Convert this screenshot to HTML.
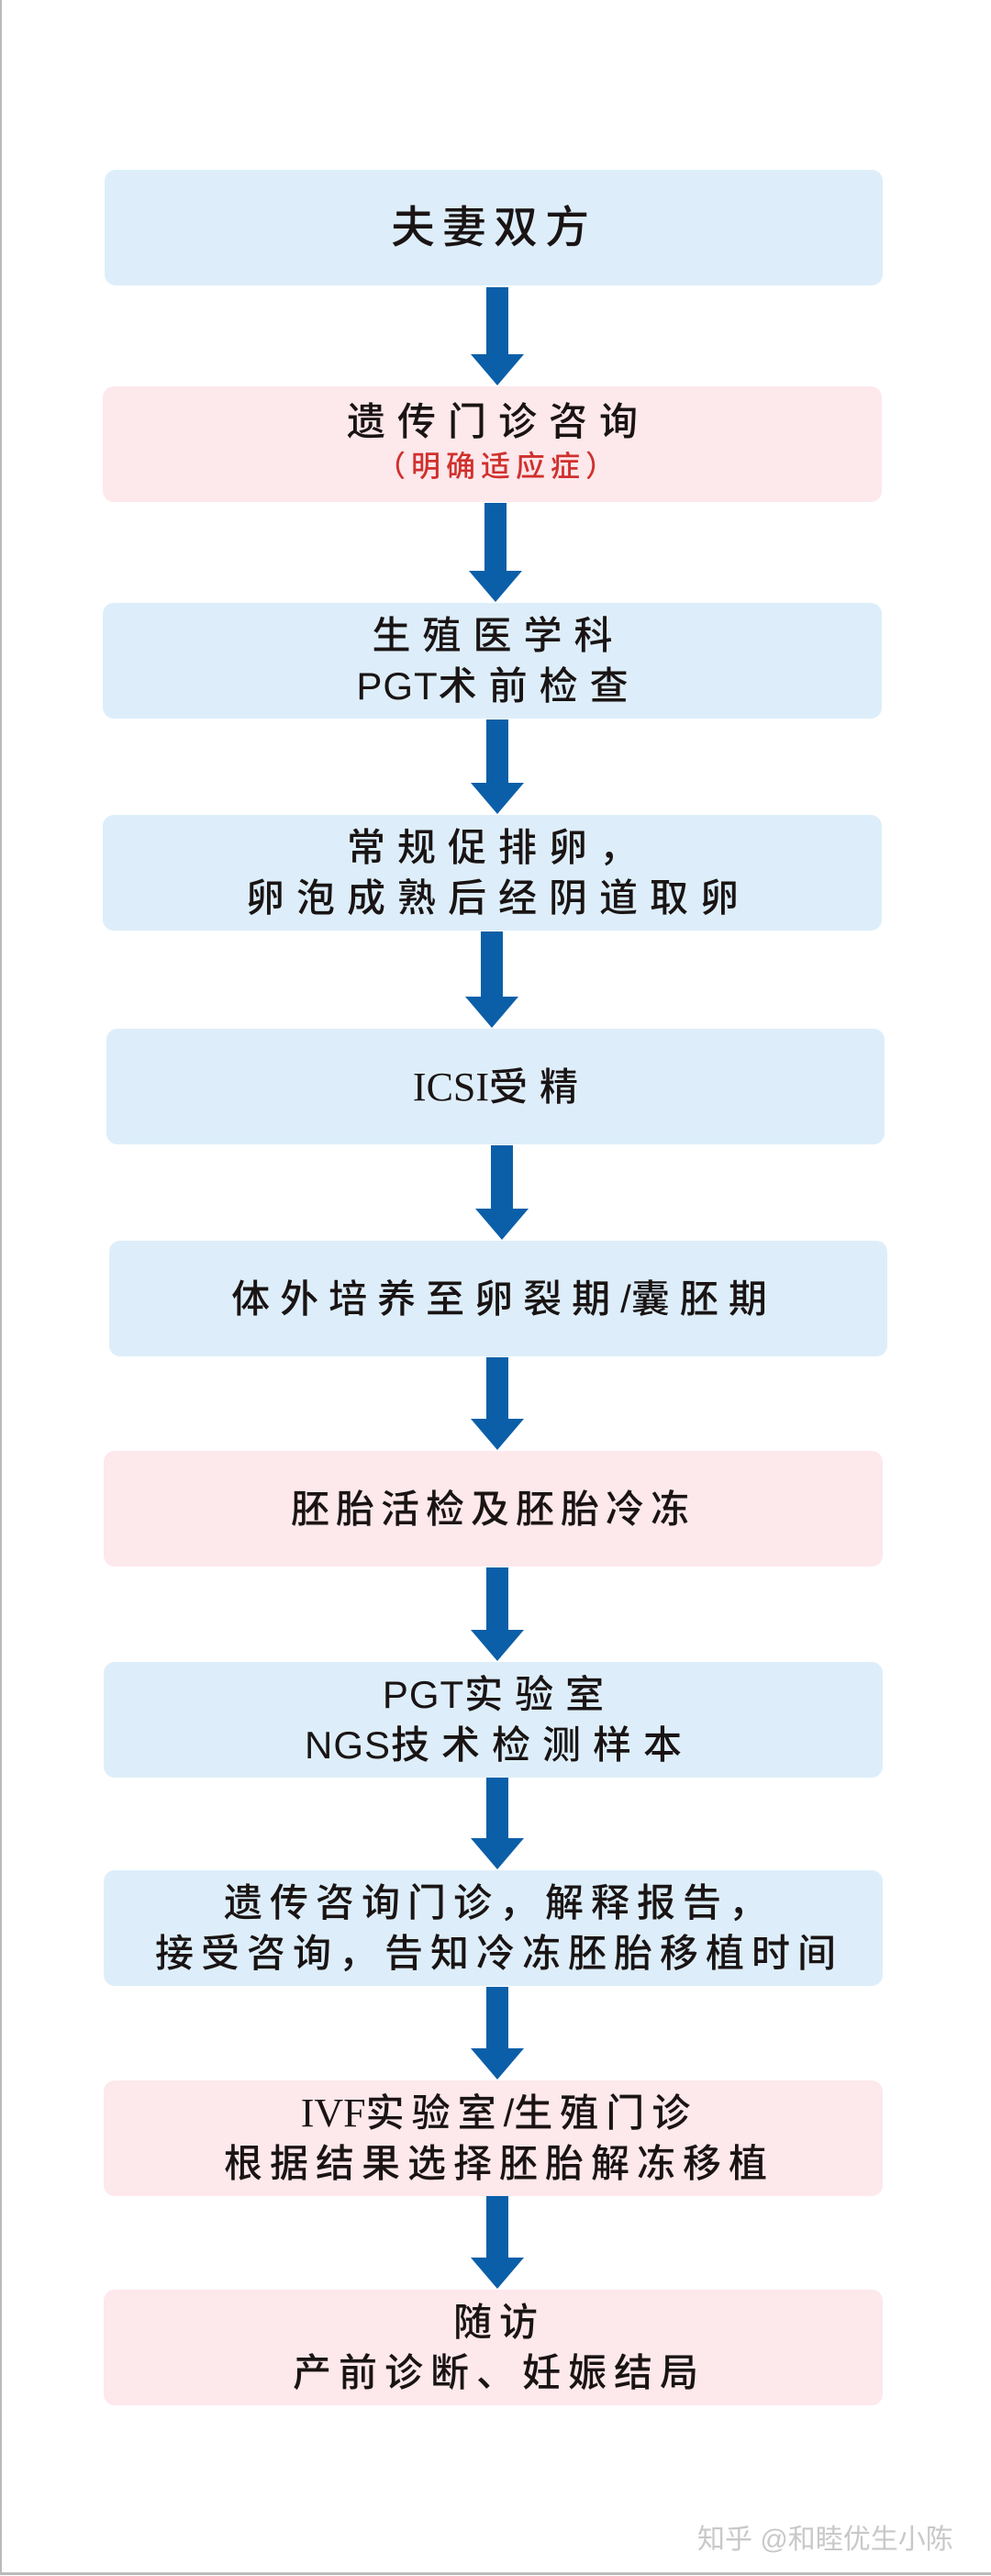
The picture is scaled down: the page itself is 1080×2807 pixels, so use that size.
<!DOCTYPE html>
<html><head><meta charset="utf-8"><style>
html,body{margin:0;padding:0;background:#fff;}
body{width:1080px;height:2807px;position:relative;overflow:hidden;font-family:"Liberation Sans","Noto Sans CJK SC",sans-serif;}
.frame{position:absolute;left:0;top:0;width:1078px;height:2803px;border-left:2px solid #bbb;border-bottom:3px solid #bbb;}
.box{position:absolute;height:126px;border-radius:12px;display:flex;flex-direction:column;justify-content:center;align-items:center;color:#1a1414;font-size:42px;font-weight:500;line-height:55px;letter-spacing:13px;text-align:center;}
.box div{margin-right:-13px;}
.b{background:#ddeefa;}
.p{background:#fde8ec;}
.l{letter-spacing:1px;}
.ser{font-family:"Liberation Serif","Noto Sans CJK SC",serif;letter-spacing:0;font-size:44px;}
.arr{position:absolute;width:58px;}
.arr .s{position:absolute;left:17px;width:24px;background:#0b5fa8;top:0;}
.arr .h{position:absolute;left:0;bottom:0;width:0;height:0;border-left:29px solid transparent;border-right:29px solid transparent;border-top:34px solid #0b5fa8;}
</style></head><body>
<div class="frame"></div>

<div class="box b" style="left:114px;top:185px;width:848px;font-size:48px;letter-spacing:8px;">夫妻双方</div>
<div class="box p" style="left:112px;top:421px;width:849px;"><div style="margin-top:-8px">遗传门诊咨询</div><div style="color:#d0312d;font-size:32px;line-height:42px;letter-spacing:6px;">（明确适应症）</div></div>
<div class="box b" style="left:112px;top:657px;width:849px;"><div>生殖医学科</div><div><span class="l">PGT</span>术前检查</div></div>
<div class="box b" style="left:112px;top:888px;width:849px;"><div>常规促排卵，</div><div>卵泡成熟后经阴道取卵</div></div>
<div class="box b" style="left:116px;top:1121px;width:848px;"><div><span class="ser">ICSI</span>受精</div></div>
<div class="box b" style="left:119px;top:1352px;width:848px;letter-spacing:11px;"><div>体外培养至卵裂期<span style="letter-spacing:0">/</span>囊胚期</div></div>
<div class="box p" style="left:113px;top:1581px;width:849px;letter-spacing:7px;">胚胎活检及胚胎冷冻</div>
<div class="box b" style="left:113px;top:1811px;width:849px;"><div><span class="l">PGT</span>实验室</div><div><span class="l">NGS</span>技术检测样本</div></div>
<div class="box b" style="left:113px;top:2038px;width:849px;letter-spacing:8px;"><div>遗传咨询门诊，解释报告，</div><div>接受咨询，告知冷冻胚胎移植时间</div></div>
<div class="box p" style="left:113px;top:2267px;width:849px;letter-spacing:8px;"><div><span class="ser">IVF</span>实验室<span style="letter-spacing:0">/</span>生殖门诊</div><div>根据结果选择胚胎解冻移植</div></div>
<div class="box p" style="left:113px;top:2495px;width:849px;letter-spacing:8px;"><div>随访</div><div>产前诊断、妊娠结局</div></div>

<div class="arr" style="left:513px;top:313px;height:107px;"><div class="s" style="height:75px"></div><div class="h"></div></div>
<div class="arr" style="left:511px;top:548px;height:108px;"><div class="s" style="height:76px"></div><div class="h"></div></div>
<div class="arr" style="left:513px;top:784px;height:103px;"><div class="s" style="height:71px"></div><div class="h"></div></div>
<div class="arr" style="left:507px;top:1015px;height:105px;"><div class="s" style="height:73px"></div><div class="h"></div></div>
<div class="arr" style="left:518px;top:1248px;height:103px;"><div class="s" style="height:71px"></div><div class="h"></div></div>
<div class="arr" style="left:513px;top:1479px;height:101px;"><div class="s" style="height:69px"></div><div class="h"></div></div>
<div class="arr" style="left:513px;top:1708px;height:102px;"><div class="s" style="height:70px"></div><div class="h"></div></div>
<div class="arr" style="left:513px;top:1937px;height:100px;"><div class="s" style="height:68px"></div><div class="h"></div></div>
<div class="arr" style="left:513px;top:2165px;height:101px;"><div class="s" style="height:69px"></div><div class="h"></div></div>
<div class="arr" style="left:513px;top:2393px;height:101px;"><div class="s" style="height:69px"></div><div class="h"></div></div>

<div style="position:absolute;left:760px;top:2742px;font-size:30px;color:#c8c8c8;white-space:nowrap;">知乎 @和睦优生小陈</div>
</body></html>
